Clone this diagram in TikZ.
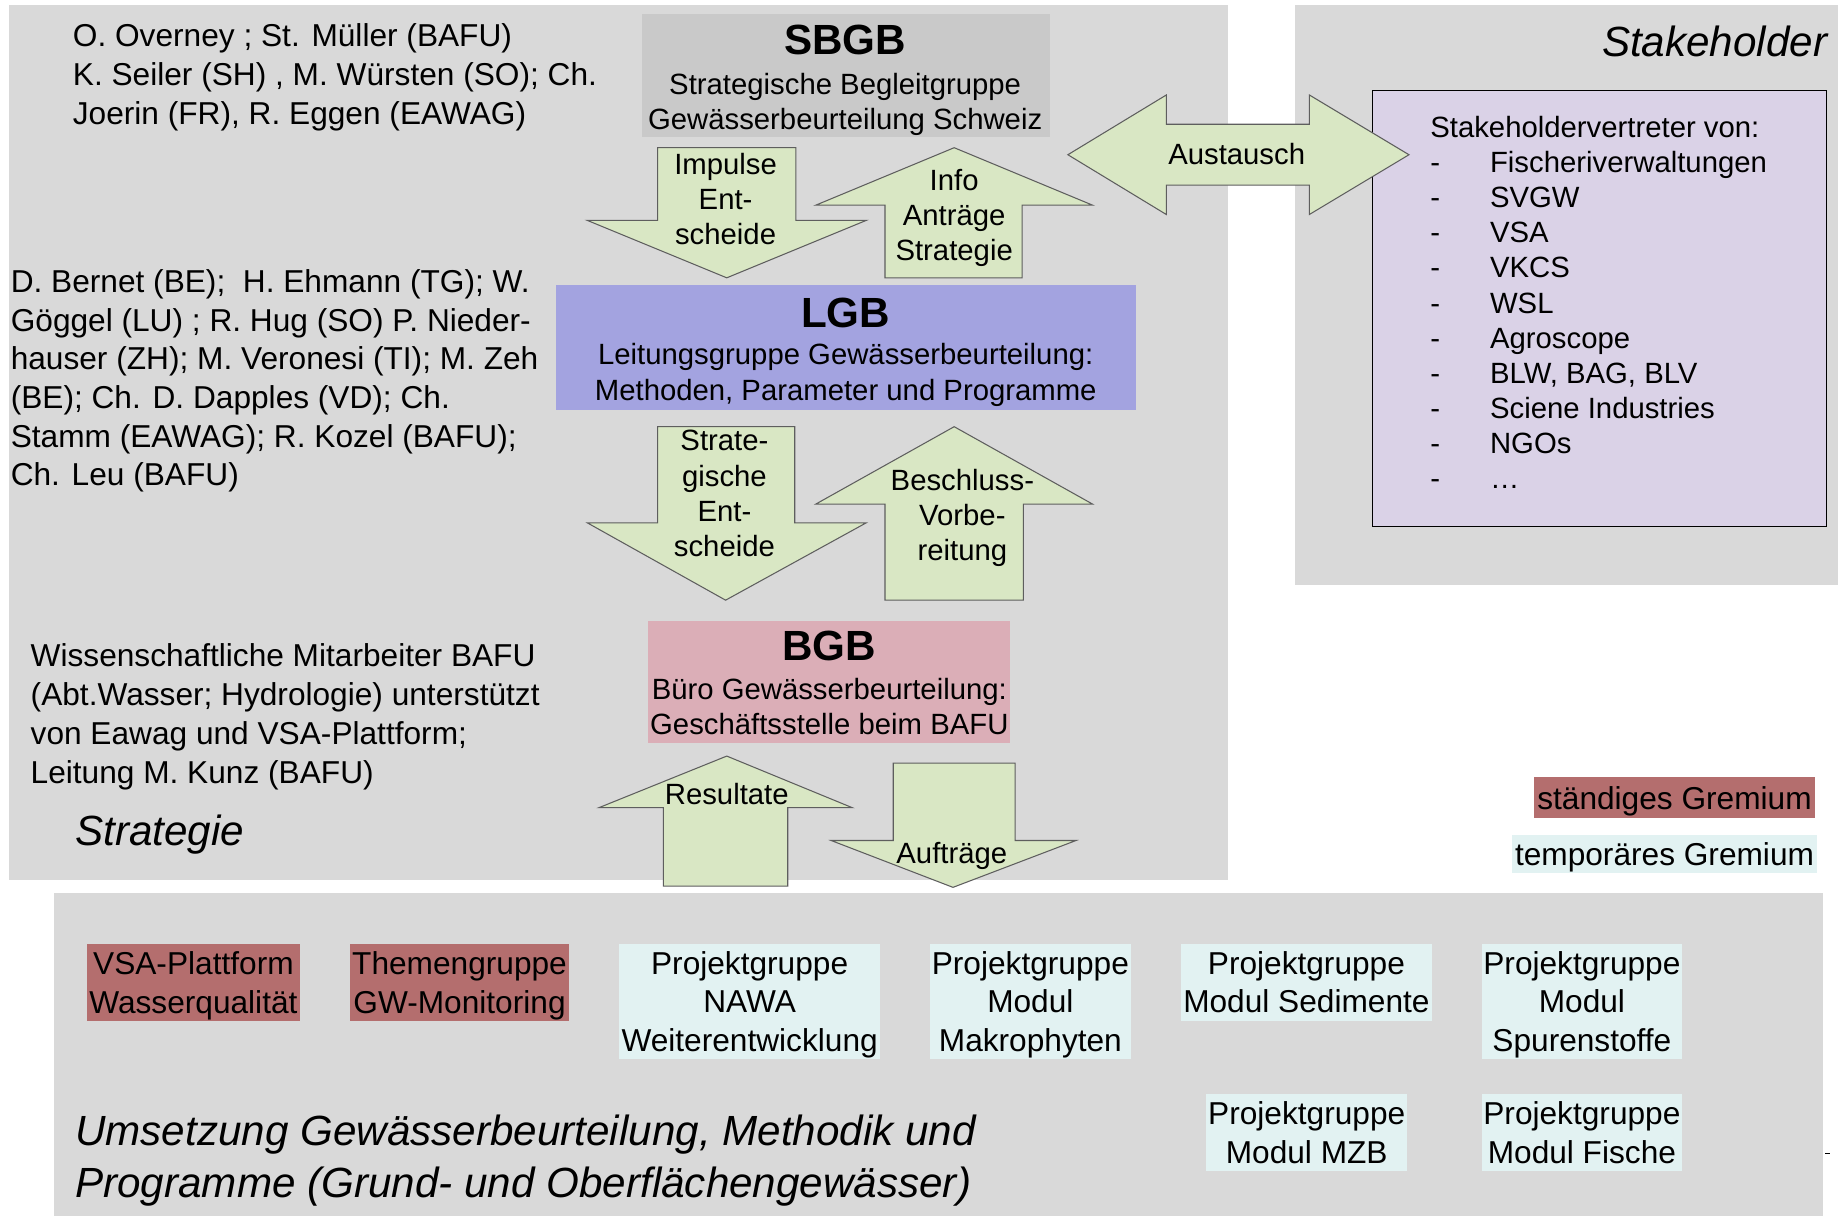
\documentclass[tikz,border=0pt]{standalone}
\usepackage{fontspec}
\setmainfont{Liberation Sans}
\usepackage{tikz}
\definecolor{panel}{HTML}{D9D9D9}
\definecolor{sbgbgray}{HTML}{C9C9C9}
\definecolor{lgbblue}{HTML}{A3A3E0}
\definecolor{bgbrose}{HTML}{DBAEB7}
\definecolor{arrowgreen}{HTML}{D9E7C4}
\definecolor{arrowline}{HTML}{5E5E5E}
\definecolor{stklila}{HTML}{DAD2E7}
\definecolor{permred}{HTML}{B46E6E}
\definecolor{tempcyan}{HTML}{E2F2F2}
\newcommand{\bodytxt}{\fontsize{27}{33}\selectfont}
\newcommand{\smalltxt}{\fontsize{25}{30}\selectfont}
\newcommand{\headtxt}{\fontsize{36}{40}\selectfont\bfseries}
\newcommand{\areatxt}{\fontsize{36}{44}\selectfont\itshape}
\newcommand{\stkitem}[1]{\makebox[51pt][l]{-}#1}
\newcommand{\nodepth}[1]{\raisebox{0pt}[\height][0pt]{#1}}

\begin{document}
\begin{tikzpicture}[x=1pt,y=-1pt,
    gremium/.style={inner sep=0pt,align=center,font=\bodytxt},
    blockarrow/.style={fill=arrowgreen,draw=arrowline,line width=0.9pt}]
  \useasboundingbox (0,0) rectangle (1568,1037);
  \fill[white] (0,0) rectangle (1568,1037);
  \fill[panel] (8,4) rectangle (1048,751);
  \fill[panel] (1105,4) rectangle (1568,499);
  \fill[panel] (46,762) rectangle (1555,1037);
  \draw[line width=0.6pt] (1557,984) -- (1561,984);

  \node[fill=sbgbgray,minimum width=348,minimum height=105] (sbgb) at (722,64.5) {};
  \node[fill=lgbblue,minimum width=495,minimum height=107] (lgb) at (721.5,296.5) {};
  \node[fill=bgbrose,minimum width=309,minimum height=104] (bgb) at (707.5,582) {};
  \node[fill=stklila,draw=black,line width=1.2pt,minimum width=387,minimum height=372] (stkbox) at (1364.5,263) {};

  \node[font=\smalltxt,align=center] (sbgbtext) at (721,68.8)
    {{\headtxt SBGB}\\[4pt]Strategische Begleitgruppe\\Gewässerbeurteilung Schweiz};
  \node[font=\smalltxt,align=center] (lgbtext) at (721.5,300.3)
    {{\headtxt LGB}\\[2pt]Leitungsgruppe Gewässerbeurteilung:\\Methoden, Parameter und Programme};
  \node[font=\smalltxt,align=center] (bgbtext) at (707.5,582.6)
    {{\headtxt BGB}\\[3pt]Büro Gewässerbeurteilung:\\Geschäftsstelle beim BAFU};

  \draw[blockarrow] (561,126) -- (679,126) -- (679,188) -- (739,188) -- (620,237) -- (501,188) -- (561,188) -- cycle;
  \draw[blockarrow] (814,126) -- (932,175) -- (872,175) -- (872,237) -- (755,237) -- (755,175) -- (696,175) -- cycle;
  \draw[blockarrow] (561,364) -- (678,364) -- (678,446) -- (739,446) -- (619,512) -- (501,446) -- (561,446) -- cycle;
  \draw[blockarrow] (814,364) -- (932,430) -- (873,430) -- (873,512) -- (755,512) -- (755,430) -- (696,430) -- cycle;
  \draw[blockarrow] (620,645) -- (727,689) -- (672,689) -- (672,756) -- (566,756) -- (566,689) -- (511,689) -- cycle;
  \draw[blockarrow] (762,651) -- (866,651) -- (866,717) -- (918,717) -- (813,757) -- (709,717) -- (762,717) -- cycle;
  \draw[blockarrow] (911,132) -- (995,81) -- (995,106) -- (1117,106) -- (1117,81) -- (1202,132)
    -- (1117,183) -- (1117,158) -- (995,158) -- (995,183) -- cycle;

  \node[font=\smalltxt,align=center] (impulse) at (619,170) {Impulse\\Ent-\\scheide};
  \node[font=\smalltxt,align=center] (info) at (814,185.7) {Info\\Anträge\\Strategie};
  \node[font=\smalltxt,align=center] (stratent) at (618,421) {Strate-\\gische\\Ent-\\scheide};
  \node[font=\smalltxt,align=center] (beschluss) at (821,441.6) {Beschluss-\\Vorbe-\\reitung};
  \node[font=\smalltxt] (resultate) at (620,677) {Resultate};
  \node[font=\smalltxt] (auftraege) at (812,730.5) {Aufträge};
  \node[font=\smalltxt] (austausch) at (1055,131) {Austausch};

  \node[font=\bodytxt,align=left,anchor=west,inner sep=0pt] (sbgbnamen) at (62,66)
    {O. Overney ; St. Müller (BAFU)\\K. Seiler (SH) , M. Würsten (SO); Ch.\\Joerin (FR), R. Eggen (EAWAG)};
  \node[font=\bodytxt,align=left,anchor=west,inner sep=0pt] (lgbnamen) at (9,325)
    {D. Bernet (BE);\ \ H. Ehmann (TG); W.\\Göggel (LU) ; R. Hug (SO) P. Nieder-\\hauser (ZH); M. Veronesi (TI); M. Zeh\\(BE); Ch. D. Dapples (VD); Ch.\\Stamm (EAWAG); R. Kozel (BAFU);\\Ch. Leu (BAFU)};
  \node[font=\bodytxt,align=left,anchor=west,inner sep=0pt] (bgbnamen) at (26,611.5)
    {Wissenschaftliche Mitarbeiter BAFU\\(Abt.Wasser; Hydrologie) unterstützt\\von Eawag und VSA-Plattform;\\Leitung M. Kunz (BAFU)};
  \node[font=\areatxt,anchor=west,inner sep=0pt] (strategie) at (64,712) {Strategie};
  \node[font=\areatxt,anchor=east,inner sep=0pt] (stakeholder) at (1559,35) {Stakeholder};
  \node[font=\areatxt,align=left,anchor=west,inner sep=0pt] (umsetzung) at (64,990)
    {Umsetzung Gewässerbeurteilung, Methodik und\\Programme (Grund- und Oberflächengewässer)};

  \node[font=\smalltxt,align=left,anchor=west,inner sep=0pt] (stkliste) at (1220,258)
    {Stakeholdervertreter von:\\\stkitem{Fischeriverwaltungen}\\\stkitem{SVGW}\\\stkitem{VSA}\\\stkitem{VKCS}\\\stkitem{WSL}\\\stkitem{Agroscope}\\\stkitem{BLW, BAG, BLV}\\\stkitem{Sciene Industries}\\\stkitem{NGOs}\\\stkitem{…}};

  \node[gremium,fill=permred,minimum width=239,minimum height=35] (staendig) at (1428.5,680.5) {\nodepth{ständiges Gremium}};
  \node[gremium,fill=tempcyan,minimum width=260,minimum height=33] (temporaer) at (1420,728.5) {\nodepth{temporäres Gremium}};

  \node[gremium,fill=permred,minimum width=182,minimum height=66] (vsa) at (165,838) {VSA-Plattform\\\nodepth{Wasserqualität}};
  \node[gremium,fill=permred,minimum width=186,minimum height=66] (themen) at (392,838) {Themengruppe\\\nodepth{GW-Monitoring}};
  \node[gremium,fill=tempcyan,minimum width=223,minimum height=98.5] (nawa) at (639.5,854.25) {Projektgruppe\\NAWA\\\nodepth{Weiterentwicklung}};
  \node[gremium,fill=tempcyan,minimum width=172,minimum height=98.5] (makro) at (879,854.25) {Projektgruppe\\Modul\\\nodepth{Makrophyten}};
  \node[gremium,fill=tempcyan,minimum width=214,minimum height=66] (sedi) at (1114.5,838) {Projektgruppe\\Modul Sedimente};
  \node[gremium,fill=tempcyan,minimum width=171,minimum height=98.5] (spuren) at (1349.5,854.25) {Projektgruppe\\Modul\\\nodepth{Spurenstoffe}};
  \node[gremium,fill=tempcyan,minimum width=171.5,minimum height=66] (mzb) at (1114.75,966) {Projektgruppe\\Modul MZB};
  \node[gremium,fill=tempcyan,minimum width=171,minimum height=66] (fische) at (1349.5,966) {Projektgruppe\\Modul Fische};
\end{tikzpicture}
\end{document}
